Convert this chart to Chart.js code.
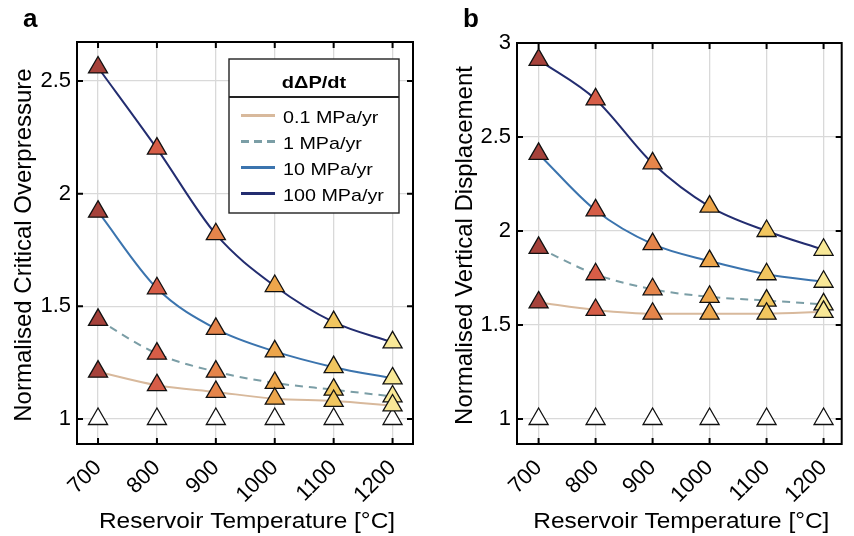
<!DOCTYPE html>
<html>
<head>
<meta charset="utf-8">
<script src="https://cdn.jsdelivr.net/npm/chart.js@4.4.1/dist/chart.umd.min.js"></script>
<style>
    html, body { margin: 0; padding: 0; background: #fff; }
    #wrap { position: relative; width: 854px; height: 536px; overflow: hidden; }
    canvas { position: absolute; top: 0; }
    #chartA { left: 0; }
    #chartB { left: 430px; }
</style>
</head>
<body>
<div id="wrap">
    <canvas id="chartA" width="430" height="536"></canvas>
    <canvas id="chartB" width="424" height="536"></canvas>
</div>
<script>
const temperatures = [700, 800, 900, 1000, 1100, 1200];
const rateLabels = ['0.1 MPa/yr', '1 MPa/yr', '10 MPa/yr', '100 MPa/yr'];
const referenceValues = [1, 1, 1, 1, 1, 1];

// panel a - normalised critical overpressure
const overpressureRate01 = [1.21, 1.15, 1.12, 1.09, 1.08, 1.06];
const overpressureRate1 = [1.44, 1.29, 1.21, 1.16, 1.13, 1.10];
const overpressureRate10 = [1.92, 1.58, 1.40, 1.30, 1.23, 1.18];
const overpressureRate100 = [2.56, 2.20, 1.82, 1.59, 1.43, 1.34];

// panel b - normalised vertical displacement
const displacementRate01 = [1.62, 1.58, 1.56, 1.56, 1.56, 1.57];
const displacementRate1 = [1.91, 1.77, 1.69, 1.65, 1.63, 1.61];
const displacementRate10 = [2.41, 2.11, 1.93, 1.84, 1.77, 1.73];
const displacementRate100 = [2.91, 2.70, 2.36, 2.13, 2.00, 1.90];

const xTickValues = [700, 800, 900, 1000, 1100, 1200];
const yTicksA = [1, 1.5, 2, 2.5];
const yTicksB = [1, 1.5, 2, 2.5, 3];

const lineColors = ['#d8b99c', '#7b9ea6', '#3b74ae', '#232d70'];
const tempColors = ['#a6423b', '#d65d47', '#e5854b', '#eda64b', '#f1c65f', '#f8e897'];
const FONT = "'Liberation Sans', Arial, Helvetica, sans-serif";

function toPoints(values) {
    return temperatures.map((t, i) => ({ x: t, y: values[i] }));
}

function buildDatasets(series) {
    const datasets = [];
    series.forEach((values, i) => {
        datasets.push({
            label: rateLabels[i],
            data: toPoints(values),
            borderColor: lineColors[i],
            borderWidth: 2,
            borderDash: i === 1 ? [8, 6] : [],
            pointRadius: 0,
            cubicInterpolationMode: 'monotone',
            fill: false,
            order: 10
        });
    });
    // markers, lowest rate drawn on top
    series.forEach((values, i) => {
        datasets.push({
            label: rateLabels[i] + ' markers',
            data: toPoints(values),
            showLine: false,
            pointStyle: 'triangle',
            pointRadius: 11,
            pointBorderWidth: 1.3,
            pointBorderColor: '#111',
            pointBackgroundColor: tempColors,
            order: i + 1
        });
    });
    datasets.push({
        label: 'reference',
        data: toPoints(referenceValues),
        showLine: false,
        pointStyle: 'triangle',
        pointRadius: 11,
        pointBorderWidth: 1.3,
        pointBorderColor: '#111',
        pointBackgroundColor: '#fff',
        order: 6
    });
    return datasets;
}

function stretchedText(ctx, text, x, y, sx, align) {
    ctx.save();
    ctx.translate(x, y);
    ctx.scale(sx, 1);
    ctx.textAlign = align || 'left';
    ctx.fillText(text, 0, 0);
    ctx.restore();
}

const decorPlugin = {
    id: 'decor',
    afterDraw(chart, args, opts) {
        const ctx = chart.ctx;
        const { left, right, top, bottom } = chart.chartArea;
        const xs = chart.scales.x, ys = chart.scales.y;
        ctx.save();
        ctx.strokeStyle = '#000';
        ctx.lineWidth = 2;
        ctx.strokeRect(left, top, right - left, bottom - top);

        // inward tick marks on all four sides
        ctx.beginPath();
        opts.yTicks.forEach(v => {
            const py = ys.getPixelForValue(v);
            ctx.moveTo(left, py); ctx.lineTo(left + 6, py);
            ctx.moveTo(right, py); ctx.lineTo(right - 6, py);
        });
        xTickValues.forEach(v => {
            const px = xs.getPixelForValue(v);
            ctx.moveTo(px, bottom); ctx.lineTo(px, bottom - 6);
            ctx.moveTo(px, top); ctx.lineTo(px, top + 6);
        });
        ctx.stroke();

        ctx.fillStyle = '#000';
        ctx.textBaseline = 'alphabetic';
        ctx.font = 'bold 26px ' + FONT;
        ctx.fillText(opts.letter, opts.letterX, 27);

        ctx.font = '22px ' + FONT;
        stretchedText(ctx, 'Reservoir Temperature [°C]', (left + right) / 2 + 2, 528, 1.11, 'center');

        ctx.save();
        ctx.translate(opts.yTitleX, (top + bottom) / 2 + 2);
        ctx.rotate(-Math.PI / 2);
        ctx.font = '24px ' + FONT;
        ctx.textAlign = 'center';
        ctx.textBaseline = 'middle';
        ctx.fillText(opts.yTitle, 0, 0);
        ctx.restore();

        if (opts.legend) {
            const bx = 229, by = 59, bw = 170, bh = 154;
            ctx.fillStyle = '#fff';
            ctx.fillRect(bx, by, bw, bh);
            ctx.strokeStyle = '#222';
            ctx.lineWidth = 1.4;
            ctx.strokeRect(bx, by, bw, bh);
            ctx.beginPath();
            ctx.lineWidth = 1.8;
            ctx.moveTo(bx, 97); ctx.lineTo(bx + bw, 97);
            ctx.stroke();

            ctx.fillStyle = '#000';
            ctx.font = 'bold 17px ' + FONT;
            stretchedText(ctx, 'd\u0394P/dt', bx + bw / 2, 88, 1.18, 'center');

            ctx.font = '17px ' + FONT;
            rateLabels.forEach((label, i) => {
                const base = 122.5 + 26 * i;
                ctx.beginPath();
                ctx.strokeStyle = lineColors[i];
                ctx.lineWidth = 2.8;
                ctx.setLineDash(i === 1 ? [8, 5] : []);
                ctx.moveTo(241, base - 7);
                ctx.lineTo(275, base - 7);
                ctx.stroke();
                ctx.setLineDash([]);
                stretchedText(ctx, label, 283, base, 1.16, 'left');
            });
        }
        ctx.restore();
    }
};

function makePanel(canvasId, series, cfg) {
    const ctx = document.getElementById(canvasId).getContext('2d');
    return new Chart(ctx, {
        type: 'line',
        data: { datasets: buildDatasets(series) },
        options: {
            responsive: false,
            animation: false,
            events: [],
            layout: { padding: cfg.padding },
            plugins: {
                legend: { display: false },
                tooltip: { enabled: false },
                decor: cfg.decor
            },
            scales: {
                x: {
                    type: 'linear',
                    min: cfg.xMin,
                    max: cfg.xMax,
                    afterBuildTicks: scale => {
                        scale.ticks = xTickValues.map(v => ({ value: v }));
                    },
                    afterFit: scale => {
                        scale.height = 92;
                        scale.paddingLeft = 0;
                        scale.paddingRight = 0;
                    },
                    ticks: {
                        autoSkip: false,
                        minRotation: 45,
                        maxRotation: 45,
                        padding: 11,
                        color: '#000',
                        font: { family: FONT, size: 22 },
                        callback: v => String(v)
                    },
                    grid: { color: '#d9d9d9', lineWidth: 1.3, drawTicks: false },
                    border: { display: false }
                },
                y: {
                    type: 'linear',
                    min: cfg.yMin,
                    max: cfg.yMax,
                    afterBuildTicks: scale => {
                        scale.ticks = cfg.decor.yTicks.map(v => ({ value: v }));
                    },
                    afterFit: scale => {
                        scale.width = cfg.yWidth;
                        scale.paddingTop = 0;
                        scale.paddingBottom = 0;
                    },
                    ticks: {
                        padding: 6,
                        color: '#000',
                        font: { family: FONT, size: 22 },
                        callback: v => String(v)
                    },
                    grid: { color: '#d9d9d9', lineWidth: 1.3, drawTicks: false },
                    border: { display: false }
                }
            }
        },
        plugins: [decorPlugin]
    });
}

makePanel('chartA',
    [overpressureRate01, overpressureRate1, overpressureRate10, overpressureRate100],
    {
        padding: { top: 42, right: 17, bottom: 0, left: 0 },
        yWidth: 77,
        xMin: 664.3, xMax: 1234.7,
        yMin: 0.889, yMax: 2.673,
        decor: {
            letter: 'a', letterX: 23, yTitleX: 24, legend: true,
            yTitle: 'Normalised Critical Overpressure', yTicks: yTicksA
        }
    });

makePanel('chartB',
    [displacementRate01, displacementRate1, displacementRate10, displacementRate100],
    {
        padding: { top: 43, right: 2, bottom: 0, left: 0 },
        yWidth: 87,
        xMin: 662.1, xMax: 1231.8,
        yMin: 0.867, yMax: 3.0,
        decor: {
            letter: 'b', letterX: 33, yTitleX: 35, legend: false,
            yTitle: 'Normalised Vertical Displacement', yTicks: yTicksB
        }
    });
</script>
</body>
</html>
